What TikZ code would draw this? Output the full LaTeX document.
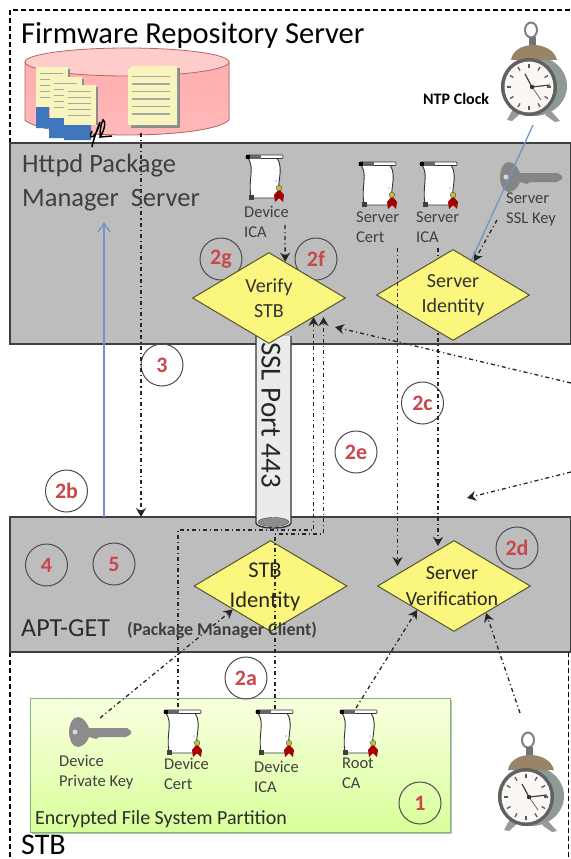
\documentclass[tikz,border=0pt]{standalone}
\usepackage{fontspec}
\setmainfont{Carlito}
\usetikzlibrary{arrows.meta,shapes.geometric}
\definecolor{panel}{HTML}{BDBDBD}
\definecolor{panelline}{HTML}{404040}
\definecolor{diamondfill}{HTML}{FBF77E}
\definecolor{diamondline}{HTML}{55552A}
\definecolor{bluearrow}{HTML}{6F97C6}
\definecolor{redlabel}{HTML}{C9484C}
\definecolor{labelgrey}{HTML}{3F3F3F}
\definecolor{notefill}{HTML}{F8F4BE}
\definecolor{noteblue}{HTML}{3F76BC}
\definecolor{bronze}{HTML}{9A8468}
\definecolor{clockbody}{HTML}{8F9A94}
\newcommand{\fs}[2]{\fontsize{#1}{#2}\selectfont}
\tikzset{
  panelbox/.style={draw=panelline,line width=1.2pt,fill=panel},
  frameline/.style={draw=black,line width=1.1pt,dash pattern=on 5pt off 3pt},
  flow/.style={draw=black!85,line width=1.3pt,dash pattern=on 4pt off 3pt on 1.2pt off 3pt,-{Stealth[length=9pt,width=10pt]}},
  flowplain/.style={draw=black!85,line width=1.3pt,dash pattern=on 4pt off 3pt on 1.2pt off 3pt},
  blueflow/.style={draw=bluearrow,line width=1.3pt},
  decision/.style={shape=diamond,aspect=1.7,draw=diamondline,line width=1pt,fill=diamondfill,minimum width=153pt,minimum height=91pt,inner sep=0pt,align=center,text=black!80,font=\fs{20}{25.5}},
  numcircle/.style={circle,draw=black!70,line width=1pt,minimum size=42pt,inner sep=0pt,text=redlabel,font=\fs{22}{22}\bfseries},
  smalllabel/.style={anchor=west,align=left,inner sep=0pt,text=labelgrey,font=\fs{16.5}{20}},
  certscroll/.pic={
    \fill[white,draw=black!80,line width=.9pt] (2,3) .. controls (9,14) and (2,22) .. (5,43) -- (34,43) .. controls (29,30) and (39,15) .. (31,3) -- cycle;
    \fill[white,draw=black!80,line width=.7pt,rounded corners=1pt] (0,0) rectangle (37,3.5);
    \fill[black!60] (0,0) rectangle (15,3.5);
    \fill[black] (0,.3) rectangle (3.5,3.5);
    \fill[black!75] (3,40) rectangle (8,45);
    \fill[red!65!black] (33,34) -- (38,40) -- (37,47) -- (33,43) -- (29,47) -- (28,40) -- cycle;
    \fill[yellow!75!black,draw=black!70,line width=.4pt] (33,33) circle (2.8pt);
    \fill[blue!35] (30,26) circle (.9pt);
  },
  keyshape/.pic={
    \fill[#1] (9,0) .. controls (15,0) and (19,8) .. (20,11) -- (58,11) -- (62,14) -- (62,17) -- (57,20) -- (30,20) -- (27,22) -- (20,20) .. controls (19,24) and (14,30) .. (9,30) .. controls (3,30) and (0,22) .. (0,15) .. controls (0,8) and (3,0) .. (9,0) -- cycle;
    \fill[white!70!gray] (6,15) circle (2.5pt);
  },
  alarmclock/.pic={
    \draw[black!50,line width=2pt] (-2,-57) ellipse (6pt and 7.5pt);
    \fill[black!55] (-4,-50) rectangle (3,-41);
    \fill[black!40] (-20,22) -- (-26,33) -- (-21,34) -- (-12,26) -- cycle;
    \fill[black!40] (18,24) -- (27,34) -- (22,35) -- (12,28) -- cycle;
    \fill[clockbody] (1,-1) ellipse (33pt and 30pt);
    \fill[bronze] (-22,-27) .. controls (-19,-47) and (19,-47) .. (24,-27) -- cycle;
    \fill[black!62] (-4,0) ellipse (28pt and 29pt);
    \fill[white!94!brown] (-4,0) ellipse (24.5pt and 25.5pt);
    \foreach \a in {0,30,...,330}
      \draw[black!65,line width=1.3pt] ({-4+18*cos(\a)},{19*sin(\a)}) -- ({-4+22*cos(\a)},{23*sin(\a)});
    \draw[black!75,line width=1.2pt] (-1,0) -- (17,-2);
    \draw[black!75,line width=1.2pt] (-1,0) -- (-8,-13);
    \draw[black!60,line width=.8pt] (-1,0) -- (8,13);
    \fill[black!80] (-1,0) circle (2.2pt);
  }
}
\begin{document}
\begin{tikzpicture}[x=1pt,y=-1pt]
\useasboundingbox (0,0) rectangle (570,859);
\fill[white] (0,0) rectangle (570,859);

% outer frame dashes
\draw[frameline] (10,143) -- (10,10) -- (570,10);
\draw[frameline] (10,652) -- (10,859);
\draw[frameline] (568.5,652) -- (568.5,859);

% database
\fill[shade,top color=red!32!white,bottom color=red!27!white,draw=red!50!black!60,line width=.8pt]
  (25,62) -- (25,120) .. controls (45,140) and (209,140) .. (229,120) -- (229,62) -- cycle;
\fill[red!20!white,draw=red!50!black!60,line width=.8pt] (127,62) ellipse (102pt and 14pt);
\fill[noteblue] (36,106) rectangle (49,128) (49,118) rectangle (64,138) (64,125) rectangle (91,140);
\foreach \x/\yt/\yb in {36/67/107,50/77/118,64/85/125}{
  \fill[black!45] (\x+2,\yt+2) rectangle (\x+34,\yb);
  \fill[notefill] (\x,\yt) rectangle (\x+32,\yb);
  \foreach \k in {1,...,5}
    \draw[black!35,line width=.9pt] (\x+4,\yt+\k*6) -- (\x+27,\yt+\k*6);
}
\fill[black!45] (131,68) rectangle (180,128);
\fill[notefill] (128,70) -- (132,66) -- (177,66) -- (177,125) -- (128,125) -- cycle;
\foreach \k in {1,...,6}
  \draw[black!35,line width=1.2pt] (132,69+\k*7.5) -- (170,69+\k*7.5);

% panels
\draw[panelbox] (10,143) rectangle (571,344);
\draw[panelbox] (10,517) rectangle (571,652);

% scribble across the database edge
\draw[black,line width=1.5pt] (92,131) .. controls (87,140) and (96,140) .. (100,122) .. controls (96,132) and (92,145) .. (92,147);
\draw[black,line width=1.5pt] (100,137) .. controls (105,130) and (106,120) .. (103,120) .. controls (100,125) and (100,135) .. (100,137) -- (112,136);

% green partition
\fill[black!25] (32,700) rectangle (452,834);
\node[name=partition,anchor=north west,draw=green!30!gray!80,line width=.6pt,minimum width=420pt,minimum height=134pt,inner sep=0pt,top color=green!18!yellow!12!white,bottom color=green!38!yellow!40!white] at (30,698) {};

% SSL cylinder
\fill[white] (256,336) rectangle (291,523);
\draw[fill=black!8!white,draw=black!80,line width=1.4pt] (256,336) -- (256,523) arc[start angle=180,end angle=360,x radius=17.5pt,y radius=5pt] -- (291,336);
\fill[black!45,draw=black!70] (273.5,522) ellipse (15.5pt and 4.5pt);
\node[name=sslport,rotate=-90,inner sep=0pt,text=black!85,font=\fs{29}{29}] at (271,415) {SSL Port 443};

% circles behind diamonds
\node[numcircle,name=c2g] at (221,259) {2g};
\node[numcircle,name=c2f] at (316,259) {2f};
\node[numcircle,name=c3] at (162,365) {3};
\node[numcircle,name=c2c] at (422.5,403) {2c};
\node[numcircle,name=c2e] at (356,452) {2e};
\node[numcircle,name=c2b] at (66.5,491) {2b};
\node[numcircle,name=c2d] at (517,548) {2d};
\node[numcircle,name=c4] at (46.5,565) {4};
\node[numcircle,name=c5] at (114,564) {5};
\node[numcircle,name=c2a] at (246,678) {2a};
\node[numcircle,name=c1] at (420,803) {1};

% coordinates for connector ends
\coordinate (dbout) at (141,133);
\coordinate (aptin) at (141,517);
\coordinate (aptout) at (104,517);
\coordinate (pkgin) at (104,222);
\coordinate (clockout) at (533,125);
\coordinate (icaout) at (285,225);
\coordinate (sslkeyout) at (497,220);
\coordinate (srvcertout) at (397.5,248);
\coordinate (srvicaout) at (438,248);
\coordinate (srvcertin) at (397.5,566);
\coordinate (srvicain) at (438,546);
\coordinate (srvicabelow) at (438,332);
\coordinate (rightin) at (571,383);
\coordinate (rightend) at (335,327);
\coordinate (rightb) at (571,472);
\coordinate (rightbend) at (467,498);
\coordinate (certout) at (178,718);
\coordinate (stbicaout) at (275,720);
\coordinate (certtop) at (313.5,317);
\coordinate (icatop) at (323.5,317);
\coordinate (certbend) at (313.5,530);
\coordinate (icabend) at (323.5,534);
\coordinate (certcorner) at (178,530);
\coordinate (icacorner) at (275,534);
\coordinate (devkeyout) at (100,718);
\coordinate (rootout) at (356,708);
\coordinate (clockbout) at (520,713);

% diamonds
\draw[flow] (srvicaout) -- (srvicain);
\node[decision,name=verify] at (269,298) {Verify\\STB};
\node[decision,name=srvid] at (453,295) {Server\\Identity};
\node[decision,name=stbid] at (270.5,586) {};
\node[decision,name=srvver] at (454,586) {};

% connectors
\draw[flow] (dbout) -- (aptin);
\draw[blueflow,-{Straight Barb[length=9pt,width=12pt]}] (aptout) -- (pkgin);
\draw[flow] (icaout) -- (verify.66);
\draw[flow] (sslkeyout) -- (srvid.58);
\draw[flow] (srvcertout) -- (srvcertin);
\draw[flow] (rightin) -- (rightend);
\draw[flow] (rightb) -- (rightbend);
\draw[flow] (certout) -- (certcorner) -- (certbend) -- (certtop);
\draw[flow] (stbicaout) -- (icacorner) -- (icabend) -- (icatop);
\draw[flow] (devkeyout) -- (stbid.-148);
\draw[flow] (rootout) -- (srvver.-147);
\draw[flow] (clockbout) -- (srvver.-40);

% panel labels
\node[anchor=west,inner sep=0pt,text=black,font=\fs{30.5}{30.5}] (title) at (21,35) {Firmware Repository Server};
\node[anchor=west,align=left,inner sep=0pt,text=labelgrey,font=\fs{26.5}{34}] (httpd) at (22,183) {Httpd Package\\Manager\ \ Server};
\node[inner sep=0pt,font=\fs{22.5}{30},text=black!85,align=center] (stblbl) at (265,587) {STB\\Identity};
\node[inner sep=0pt,font=\fs{20}{26},text=black!85,align=center] (verlbl) at (452,586) {Server\\Verification};
\node[anchor=west,inner sep=0pt,text=labelgrey!70!black,font=\fs{26}{26}] (apt) at (21,628) {APT-GET};
\node[anchor=west,inner sep=0pt,text=labelgrey,font=\fs{18}{18}\bfseries] (pmc) at (127,630) {(Package Manager Client)};
\node[anchor=west,inner sep=0pt,text=labelgrey!70!black,font=\fs{20}{20}] (efs) at (35,819) {Encrypted File System Partition};
\node[anchor=west,inner sep=0pt,text=black,font=\fs{30}{30}] (stbname) at (21,845) {STB};
\node[anchor=west,inner sep=0pt,text=black,font=\fs{16}{16}\bfseries] (ntp) at (423,99) {NTP Clock};

% scrolls and keys
\pic at (246,155) {certscroll};
\pic at (359,162) {certscroll};
\pic at (420,162) {certscroll};
\pic at (164,710) {certscroll};
\pic at (256,710) {certscroll};
\pic at (340,710) {certscroll};
\pic at (500,162) {keyshape={black!48}};
\pic at (69,717) {keyshape={black!45}};
\node[smalllabel] (l1) at (244,222) {Device\\ICA};
\node[smalllabel] (l2) at (356,227) {Server\\Cert};
\node[smalllabel] (l3) at (416,227) {Server\\ICA};
\node[smalllabel] (l4) at (506,209.5) {Server\\SSL Key};
\node[smalllabel] (l5) at (59,772) {Device\\Private Key};
\node[smalllabel] (l6) at (164,774) {Device\\Cert};
\node[smalllabel] (l7) at (254,777) {Device\\ICA};
\node[smalllabel] (l8) at (342,773) {Root\\CA};

% clocks
\pic at (533,87) {alarmclock};
\pic at (530,797) {alarmclock};
\draw[blueflow] (clockout) -- (srvid.62);
\end{tikzpicture}
\end{document}
